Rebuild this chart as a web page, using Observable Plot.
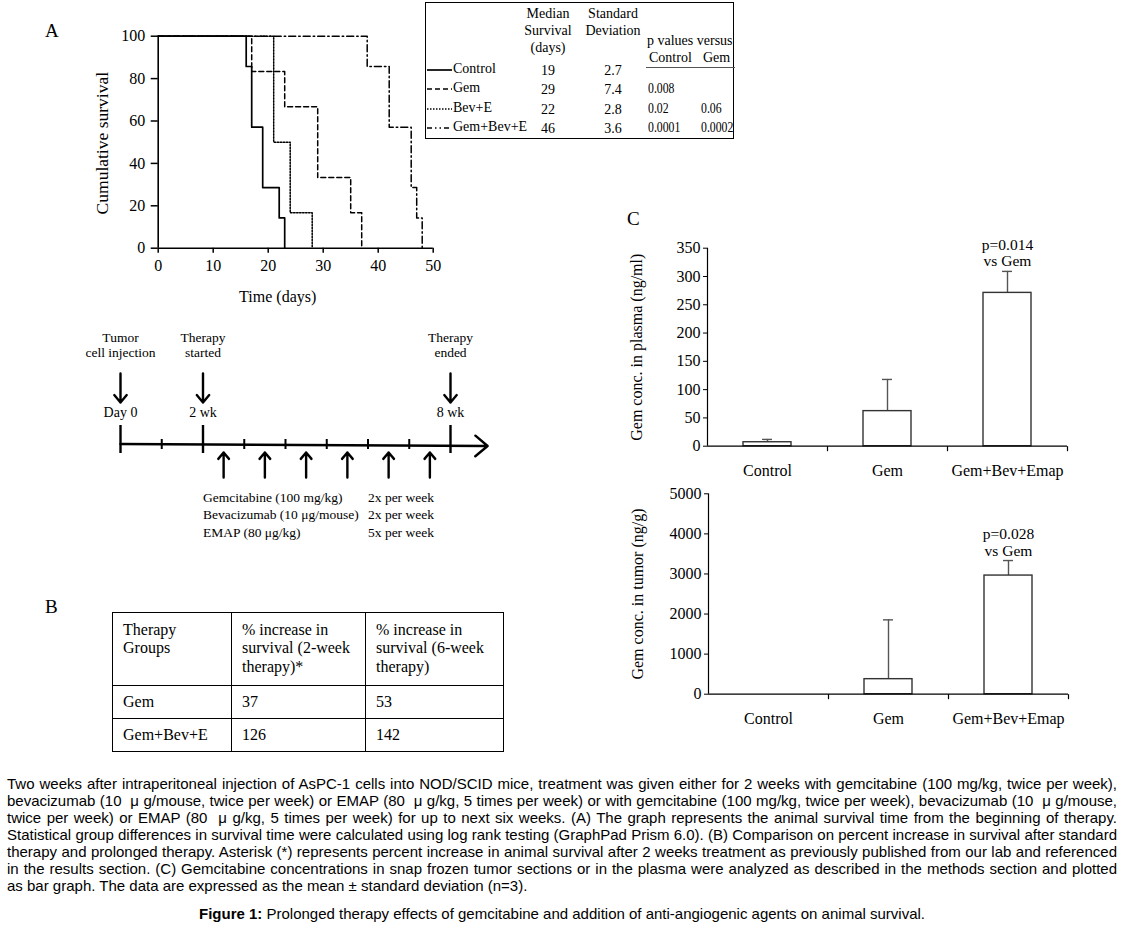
<!DOCTYPE html>
<html><head><meta charset="utf-8">
<script src="https://cdn.jsdelivr.net/npm/d3@7"></script>
<script src="https://cdn.jsdelivr.net/npm/@observablehq/plot@0.6"></script>
<style>
body{margin:0;background:#fff;}
#fig{position:relative;width:1124px;height:928px;overflow:hidden;font-family:"Liberation Serif",serif;color:#000;background:#fff;}
#fig svg{overflow:visible;}
.t{position:absolute;white-space:nowrap;line-height:1;}
.cap{position:absolute;left:7px;width:1110px;font-family:"Liberation Sans",Arial,sans-serif;font-size:15px;line-height:1;color:#000;white-space:nowrap;}
.just{text-align:justify;text-align-last:justify;}
table.tb{position:absolute;border-collapse:collapse;font-family:"Liberation Serif",serif;font-size:16px;}
table.tb td{border:1.5px solid #000;vertical-align:top;padding:8px 9px 0 10px;line-height:1.15;}
</style></head><body><div id="fig"></div>
<script>
// ---------- Panel A: Kaplan-Meier data ----------
const kmGroups = ["Control", "Gem", "Bev+E", "Gem+Bev+E"];
const controlDays = [0, 16, 17, 19, 22, 23];
const controlSurvival = [100, 85.7, 57.1, 28.6, 14.3, 0];
const gemDays = [0, 17, 23, 29, 35, 37];
const gemSurvival = [100, 83.3, 66.7, 33.3, 16.7, 0];
const bevDays = [0, 21, 24, 28];
const bevSurvival = [100, 50, 16.7, 0];
const gbeDays = [0, 38, 42, 46, 47, 48];
const gbeSurvival = [100, 85.7, 57.1, 28.6, 14.3, 0];
const kmXTicks = [0, 10, 20, 30, 40, 50];
const kmYTicks = [0, 20, 40, 60, 80, 100];
const kmDash = [null, "5,3", "1.5,1.5", "7,3,1.5,3"];
const kmXLabel = "Time (days)";
const kmYLabel = "Cumulative survival";

// Panel A table
const medianSurvival = ["19", "29", "22", "46"];
const stdDeviation = ["2.7", "7.4", "2.8", "3.6"];
const pVsControl = ["", "0.008", "0.02", "0.0001"];
const pVsGem = ["", "", "0.06", "0.0002"];

// Timeline
const weekTicks = [1, 3, 4, 5, 6, 7];
const milestoneWeeks = [0, 2, 8];
const milestoneTitles = ["Tumor\ncell injection", "Therapy\nstarted", "Therapy\nended"];
const milestoneLabels = ["Day 0", "2 wk", "8 wk"];
const doseWeeks = [2.5, 3.5, 4.5, 5.5, 6.5, 7.5];
const drugs = ["Gemcitabine (100 mg/kg)", "Bevacizumab (10 μg/mouse)", "EMAP (80 μg/kg)"];
const frequencies = ["2x per week", "2x per week", "5x per week"];

// Panel B table
const tableBHeader = ["Therapy Groups", "% increase in survival (2-week therapy)*", "% increase in survival (6-week therapy)"];
const tableBGroups = ["Gem", "Gem+Bev+E"];
const increase2wk = [37, 126];
const increase6wk = [53, 142];

// Panel C bar data
const barGroups = ["Control", "Gem", "Gem+Bev+Emap"];
const plasmaMean = [7, 62, 271];
const plasmaSD = [5, 56, 38];
const plasmaTicks = [0, 50, 100, 150, 200, 250, 300, 350];
const tumorMean = [0, 375, 2960];
const tumorSD = [0, 1480, 375];
const tumorTicks = [0, 1000, 2000, 3000, 4000, 5000];
const plasmaNote = "p=0.014\nvs Gem";
const tumorNote = "p=0.028\nvs Gem";

const captionLines = [
 "Two weeks after intraperitoneal injection of AsPC-1 cells into NOD/SCID mice, treatment was given either for 2 weeks with gemcitabine (100 mg/kg, twice per week),",
 "bevacizumab (10\u00a0 μ g/mouse, twice per week) or EMAP (80\u00a0 μ g/kg, 5 times per week) or with gemcitabine (100 mg/kg, twice per week), bevacizumab (10\u00a0 μ g/mouse,",
 "twice per week) or EMAP (80\u00a0 μ g/kg, 5 times per week) for up to next six weeks. (A) The graph represents the animal survival time from the beginning of therapy.",
 "Statistical group differences in survival time were calculated using log rank testing (GraphPad Prism 6.0). (B) Comparison on percent increase in survival after standard",
 "therapy and prolonged therapy. Asterisk (*) represents percent increase in animal survival after 2 weeks treatment as previously published from our lab and referenced",
 "in the results section. (C) Gemcitabine concentrations in snap frozen tumor sections or in the plasma were analyzed as described in the methods section and plotted",
 "as bar graph. The data are expressed as the mean ± standard deviation (n=3)."
];
const figureTitle = "Prolonged therapy effects of gemcitabine and addition of anti-angiogenic agents on animal survival.";

// ---------- helpers ----------
const fig = document.getElementById("fig");
function place(el, left, top) { el.style.position = "absolute"; el.style.left = left + "px"; el.style.top = top + "px"; fig.appendChild(el); return el; }
function txt(s, left, top, css = "") { const d = document.createElement("div"); d.className = "t"; d.textContent = s; d.style.cssText += css; return place(d, left, top); }
const serif = "Liberation Serif, Times New Roman, serif";

// ---------- Panel A: KM plot ----------
const kmSeries = [[controlDays, controlSurvival], [gemDays, gemSurvival], [bevDays, bevSurvival], [gbeDays, gbeSurvival]];
const kmLines = kmSeries.map(([days, surv], k) =>
  Plot.line(days.map((d, i) => ({day: d, surv: surv[i], group: kmGroups[k]})),
    {x: "day", y: "surv", curve: "step-after", stroke: "#000", strokeWidth: k === 0 ? 1.7 : 1.5, strokeDasharray: kmDash[k]}));
const kmPlot = Plot.plot({
  width: 450, height: 310,
  marginLeft: 157.7, marginRight: 17.3, marginTop: 35.7, marginBottom: 62.3,
  style: {fontFamily: serif, fontSize: "16px", color: "#000", background: "transparent"},
  x: {domain: [0, 50], label: null},
  y: {domain: [0, 100], label: null},
  marks: [
    Plot.axisX({ticks: kmXTicks, tickSize: 5, tickPadding: 6, strokeWidth: 1.5, label: null}),
    Plot.axisY({ticks: kmYTicks, tickSize: 7, tickPadding: 6, strokeWidth: 1.5, label: null}),
    Plot.text([kmXLabel], {frameAnchor: "bottom", dx: -18, dy: 49, lineAnchor: "middle", fontSize: 16}),
    Plot.text([kmYLabel], {frameAnchor: "left", textAnchor: "middle", dx: -56, dy: 1, rotate: -90, lineAnchor: "middle", fontSize: 17.5}),
    ...kmLines,
    Plot.ruleY([0], {strokeWidth: 1.6}),
    Plot.ruleX([0], {strokeWidth: 1.6})
  ]
});
place(kmPlot, 0, 0);
txt("A", 45, 21, "font-size:19px;");

// ---------- Panel A table ----------
(function () {
  const box = document.createElement("div");
  box.style.cssText = "border:1.5px solid #000;width:309px;height:137px;box-sizing:border-box;";
  place(box, 425, 2);
  const fs = "font-size:14px;";
  const center = fs + "transform-origin:0 0;transform:translateX(-50%);";
  const squeeze = fs + "transform-origin:0 0;transform:scaleX(0.84);";
  txt("Median", 548, 7, center);
  txt("Survival", 548, 24, center);
  txt("(days)", 548, 41, center);
  txt("Standard", 613, 7, center);
  txt("Deviation", 613, 24, center);
  txt("p values versus", 647, 34, fs);
  txt("Control", 649, 51, fs);
  txt("Gem", 703, 51, fs);
  const rule = document.createElement("div");
  rule.style.cssText = "width:89px;height:0;border-top:1.2px solid #555;";
  place(rule, 646, 67);
  const rowsY = [62, 81, 100.5, 120];
  kmGroups.forEach((g, i) => {
    const y = rowsY[i];
    const ns = "http://www.w3.org/2000/svg";
    const s = document.createElementNS(ns, "svg");
    s.setAttribute("width", 26); s.setAttribute("height", 6);
    const l = document.createElementNS(ns, "line");
    l.setAttribute("x1", 0); l.setAttribute("x2", 25); l.setAttribute("y1", 3); l.setAttribute("y2", 3);
    l.setAttribute("stroke", "#000"); l.setAttribute("stroke-width", i === 0 ? 1.7 : 1.4);
    if (kmDash[i]) l.setAttribute("stroke-dasharray", i === 3 ? "5,3,1.5,3,1.5,3" : kmDash[i]);
    s.appendChild(l);
    place(s, 427, y + 5);
    txt(g, 453, y, fs);
    txt(medianSurvival[i], 548, y + 2, center);
    txt(stdDeviation[i], 613, y + 2, center);
    if (pVsControl[i]) txt(pVsControl[i], 648, y + 1, squeeze);
    if (pVsGem[i]) txt(pVsGem[i], 701, y + 1, squeeze);
  });
})();

// ---------- Timeline ----------
(function () {
  const H = 230;
  const yRow = {title: 24, arrowTop: 53, arrowBottom: 82, label: 92, bigTop: 105, axis: 124, bigBottom: 133, smallTop: 119, smallBottom: 129, doseTop: 132, doseBottom: 157, drug0: 177};
  const plot = Plot.plot({
    width: 420, height: H, marginLeft: 40, marginRight: 50, marginTop: 0, marginBottom: 0,
    style: {fontFamily: serif, fontSize: "14px", color: "#000", background: "transparent"},
    x: {domain: [0, 8], axis: null},
    y: {domain: [0, H], range: [0, H], axis: null},
    marks: [
      Plot.arrow([0], {x1: 0, x2: 8.9, y1: yRow.axis - 0.5, y2: yRow.axis + 1.5, stroke: "#000", strokeWidth: 2.4, headLength: 10, headAngle: 80}),
      Plot.ruleX(milestoneWeeks, {x: d => d, y1: yRow.bigTop, y2: yRow.bigBottom, stroke: "#000", strokeWidth: 2.4}),
      Plot.ruleX(weekTicks, {x: d => d, y1: yRow.smallTop, y2: yRow.smallBottom, stroke: "#000", strokeWidth: 2}),
      Plot.arrow(milestoneWeeks, {x: d => d, y1: yRow.arrowTop, y2: yRow.arrowBottom, stroke: "#000", strokeWidth: 2.4, headLength: 10, headAngle: 80}),
      Plot.arrow(doseWeeks, {x: d => d, y1: yRow.doseBottom, y2: yRow.doseTop, stroke: "#000", strokeWidth: 2.4, headLength: 10, headAngle: 80}),
      Plot.text(milestoneWeeks, {x: d => d, y: yRow.title, text: (d, i) => milestoneTitles[i], lineHeight: 1.15, lineAnchor: "middle", fontSize: 13.5}),
      Plot.text(milestoneWeeks, {x: d => d, y: yRow.label, text: (d, i) => milestoneLabels[i], fontSize: 14}),
      Plot.text(drugs, {x: 2, y: (d, i) => yRow.drug0 + i * 17.5, text: d => d, textAnchor: "start", fontSize: 13.5}),
      Plot.text(frequencies, {x: 6, y: (d, i) => yRow.drug0 + i * 17.5, text: d => d, textAnchor: "start", fontSize: 13.5})
    ]
  });
  place(plot, 80, 320);
})();

// ---------- Panel B ----------
txt("B", 45, 597, "font-size:19px;");
(function () {
  const t = document.createElement("table");
  t.className = "tb";
  const widths = [119, 134, 138];
  const rows = [tableBHeader, ...tableBGroups.map((g, i) => [g, String(increase2wk[i]), String(increase6wk[i])])];
  const heights = [73, 33, 33];
  rows.forEach((r, ri) => {
    const tr = document.createElement("tr");
    tr.style.height = heights[ri] + "px";
    r.forEach((c, ci) => {
      const td = document.createElement("td");
      td.style.width = widths[ci] + "px";
      td.style.boxSizing = "border-box";
      if (ri > 0) { td.style.verticalAlign = "middle"; td.style.paddingTop = "0"; }
      td.textContent = c;
      tr.appendChild(td);
    });
    t.appendChild(tr);
  });
  place(t, 112, 612);
  t.style.width = "391px";
  t.style.tableLayout = "fixed";
})();

// ---------- Panel C ----------
txt("C", 627, 209, "font-size:19px;");
const tickDown = {draw(context) { context.moveTo(0, 0); context.lineTo(0, 5); }};
function barChart(mean, sd, ticks, label, note, opts) {
  const data = barGroups.map((g, i) => ({g, m: mean[i], e: mean[i] + sd[i]}));
  const inner = opts.width - opts.marginLeft - opts.marginRight;
  const half = inner / barGroups.length / 2;
  return Plot.plot({
    ...opts,
    style: {fontFamily: serif, fontSize: "16px", color: "#000", background: "transparent"},
    x: {domain: barGroups, paddingInner: 0.6, paddingOuter: 0.3, label: null},
    y: {domain: [ticks[0], ticks[ticks.length - 1]], label: null},
    marks: [
      Plot.axisY({ticks, tickSize: 4, tickPadding: 3, tickFormat: d => String(d), label, labelAnchor: "center", labelArrow: "none", labelOffset: 77}),
      Plot.axisX({tickSize: 0, tickPadding: 18}),
      Plot.ruleX(data.filter(d => d.e > d.m), {x: "g", y1: "m", y2: "e", stroke: "#555", strokeWidth: 1.4}),
      Plot.tickY(data.filter(d => d.e > d.m), {x: "g", y: "e", stroke: "#555", strokeWidth: 1.4, insetLeft: 19, insetRight: 19}),
      Plot.barY(data.filter(d => d.m > 0), {x: "g", y: "m", fill: "#fff", stroke: "#333", strokeWidth: 1.4}),
      Plot.ruleY([ticks[0]], {stroke: "#000", strokeWidth: 1.2}),
      Plot.ruleX([barGroups[0]], {x: d => d, dx: -half, stroke: "#000", strokeWidth: 1.2}),
      Plot.dot(barGroups, {x: d => d, y: () => ticks[0], dx: half, symbol: tickDown, stroke: "#000", strokeWidth: 1.2, fill: "none"}),
      Plot.text([data[data.length - 1]], {x: "g", y: "e", text: () => note, lineAnchor: "bottom", dy: -5, lineHeight: 1.05, fontSize: 15.5})
    ]
  });
}
place(barChart(plasmaMean, plasmaSD, plasmaTicks, "Gem conc. in plasma (ng/ml)", plasmaNote,
  {width: 460, height: 290, marginLeft: 87, marginRight: 13, marginTop: 47.7, marginBottom: 44.3}), 620, 200);
place(barChart(tumorMean, tumorSD, tumorTicks, "Gem conc. in tumor (ng/g)", tumorNote,
  {width: 460, height: 270, marginLeft: 88, marginRight: 12, marginTop: 13.3, marginBottom: 56.3}), 620, 480);

// ---------- Caption ----------
captionLines.forEach((line, i) => {
  const d = document.createElement("div");
  d.className = "cap" + (i < captionLines.length - 1 ? " just" : "");
  d.textContent = line;
  place(d, 7, 775.5 + i * 17);
  // tighten a line slightly if its natural width exceeds the column
  let ls = 0;
  while (d.scrollWidth > d.clientWidth + 0.5 && ls > -0.6) {
    ls -= 0.05;
    d.style.letterSpacing = ls.toFixed(2) + "px";
  }
});
(function () {
  const d = document.createElement("div");
  d.className = "cap";
  d.style.textAlign = "center";
  const b = document.createElement("b");
  b.textContent = "Figure 1:";
  d.appendChild(b);
  d.appendChild(document.createTextNode(" " + figureTitle));
  place(d, 0, 906);
  d.style.width = "1124px";
})();
</script></body></html>
